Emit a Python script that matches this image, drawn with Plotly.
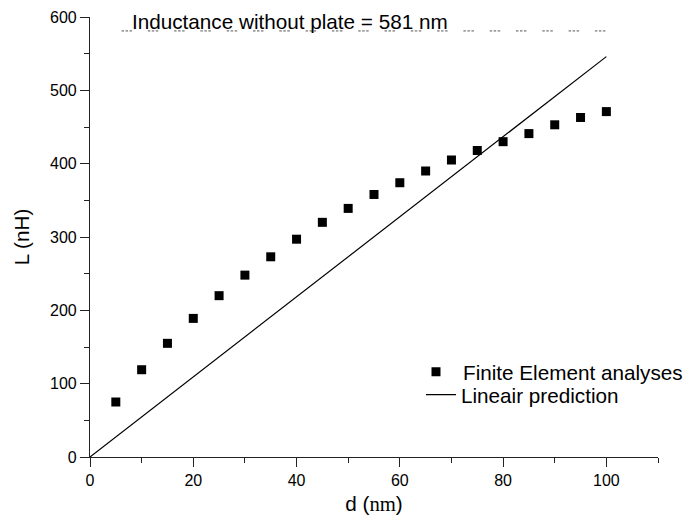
import plotly.graph_objects as go

# Finite element analyses
d_fe = [5, 10, 15, 20, 25, 30, 35, 40, 45, 50, 55, 60, 65, 70, 75, 80, 85, 90, 95, 100]
L_fe = [75, 119, 155, 189, 220, 248, 273, 297, 320, 339, 358, 374, 390, 405, 418, 430, 441, 453, 463, 471]

# Linear prediction
d_lin = [0, 100]
L_lin = [0, 546]

# Inductance without plate
d_ref = [6.1, 100]
L_ref = [581, 581]
ref_label = "Inductance without plate = 581 nm"

x_ticks = [0, 20, 40, 60, 80, 100]
y_ticks = [0, 100, 200, 300, 400, 500, 600]

FONT = "Liberation Sans, Arial, sans-serif"
AX = "#222222"
BIG = 20.7

fig = go.Figure()
fig.add_trace(go.Scatter(
    x=d_ref, y=L_ref, mode="lines", showlegend=False, hoverinfo="skip",
    line=dict(color="#555555", width=1, dash="2.5px,1.5px,2.5px,1.5px,2.5px,15.8px"),
))
fig.add_trace(go.Scatter(
    x=d_fe, y=L_fe, mode="markers", name="Finite Element analyses", legend="legend",
    marker=dict(symbol="square", size=9, color="black"),
))
fig.add_trace(go.Scatter(
    x=d_lin, y=L_lin, mode="lines", name="Lineair prediction", legend="legend2",
    line=dict(color="black", width=1.2),
))

fig.add_annotation(
    x=d_ref[0], y=L_ref[0], xref="x", yref="y", text=ref_label,
    showarrow=False, xanchor="left", yanchor="bottom", xshift=8, yshift=-4,
    font=dict(family=FONT, size=BIG, color="black"),
)

axis_common = dict(
    showline=True, linecolor=AX, linewidth=1.2, showgrid=False, zeroline=False,
    ticks="outside", tickcolor=AX, ticklen=9, tickwidth=1.2,
    tickfont=dict(family=FONT, size=16, color="black"),
    minor=dict(ticks="outside", ticklen=5, tickcolor=AX, tickwidth=1.2),
)

fig.update_xaxes(
    range=[0, 110], tickvals=x_ticks, ticktext=[str(v) for v in x_ticks],
    title=dict(text="d (<span style='font-family:Liberation Serif'>nm</span>)",
               font=dict(family=FONT, size=BIG, color="black"), standoff=8),
    **axis_common,
)
fig.update_yaxes(
    range=[0, 600], tickvals=y_ticks, ticktext=[str(v) for v in y_ticks],
    title=dict(text="L (nH)", font=dict(family=FONT, size=BIG, color="black"), standoff=14),
    **axis_common,
)
fig.update_xaxes(minor=dict(tickvals=[10, 30, 50, 70, 90, 110]))
fig.update_yaxes(minor=dict(tickvals=[50, 150, 250, 350, 450, 550]))

legend_style = dict(xanchor="left", yanchor="top", bgcolor="rgba(0,0,0,0)",
                    font=dict(family=FONT, size=BIG, color="black"))
fig.update_layout(
    width=688, height=526,
    margin=dict(l=90, r=30, t=17, b=69, autoexpand=False),
    paper_bgcolor="white", plot_bgcolor="white",
    font=dict(family=FONT, size=16, color="black"),
    legend=dict(x=0.5616, y=0.239, itemwidth=44, **legend_style),
    legend2=dict(x=0.5827, y=0.187, **legend_style),
)

fig.write_html("out.html")
